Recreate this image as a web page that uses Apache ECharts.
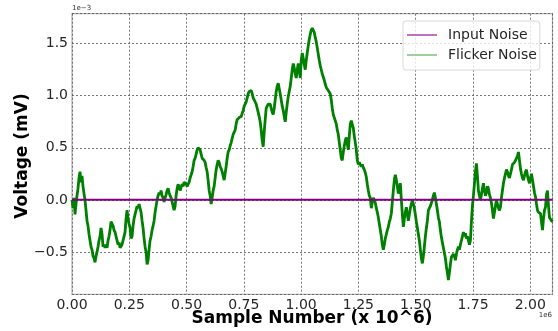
<!DOCTYPE html>
<html>
<head>
<meta charset="utf-8">
<script src="https://cdn.jsdelivr.net/npm/echarts@6/dist/echarts.min.js"></script>
<style>
  html, body { margin: 0; background: #fff; }
  #chart { width: 558px; height: 331px; }
</style>
</head>
<body>
<div id="chart"></div>
<script>
// x in units of 10^6 samples, y in units of 1e-3
const xTicks = [0, 0.25, 0.5, 0.75, 1.0, 1.25, 1.5, 1.75, 2.0];
const yTicks = [-0.5, 0.0, 0.5, 1.0, 1.5];
const xEnd = 2.097;
const yRange = [-0.907, 1.788];

const inputNoise = [[0, 0], [xEnd, 0]];

// flicker noise at evenly spaced sample positions
const flicker = [
  -0.00, -0.08, 0.02, -0.14, -0.04, 0.04, 0.11, 0.21, 0.27, 0.17, 0.23, 0.13, 0.06, 0.00, -0.10, -0.20,
  -0.25, -0.33, -0.39, -0.45, -0.48, -0.54, -0.56, -0.60, -0.54, -0.50, -0.45, -0.39, -0.35, -0.27, -0.33, -0.45,
  -0.43, -0.46, -0.43, -0.46, -0.39, -0.35, -0.29, -0.21, -0.20, -0.25, -0.29, -0.31, -0.35, -0.39, -0.43, -0.41,
  -0.46, -0.45, -0.43, -0.39, -0.35, -0.31, -0.18, -0.10, -0.18, -0.23, -0.27, -0.37, -0.35, -0.25, -0.18, -0.14,
  -0.10, -0.06, -0.08, -0.04, -0.04, -0.12, -0.20, -0.27, -0.37, -0.45, -0.50, -0.62, -0.58, -0.48, -0.39, -0.35,
  -0.29, -0.25, -0.20, -0.12, -0.06, 0.00, 0.04, 0.07, 0.05, 0.09, 0.04, 0.02, -0.02, 0.02, 0.05, 0.09,
  0.11, 0.07, 0.04, 0.02, -0.02, -0.06, -0.10, -0.06, 0.04, 0.11, 0.15, 0.13, 0.09, 0.12, 0.15, 0.13,
  0.17, 0.17, 0.15, 0.13, 0.14, 0.17, 0.21, 0.22, 0.27, 0.32, 0.38, 0.40, 0.44, 0.48, 0.50, 0.51,
  0.48, 0.44, 0.40, 0.41, 0.38, 0.36, 0.31, 0.27, 0.19, 0.09, 0.04, -0.04, 0.02, 0.09, 0.13, 0.21,
  0.29, 0.34, 0.38, 0.36, 0.32, 0.30, 0.27, 0.23, 0.19, 0.19, 0.32, 0.40, 0.46, 0.48, 0.52, 0.55,
  0.59, 0.63, 0.65, 0.67, 0.73, 0.77, 0.77, 0.79, 0.80, 0.80, 0.83, 0.86, 0.90, 0.92, 0.94, 0.98,
  1.02, 1.04, 1.05, 1.05, 1.02, 0.98, 0.96, 0.94, 0.92, 0.88, 0.84, 0.80, 0.75, 0.67, 0.57, 0.51,
  0.65, 0.77, 0.88, 0.90, 0.92, 0.93, 0.92, 0.88, 0.84, 0.82, 0.88, 0.96, 1.04, 1.09, 1.12, 1.07,
  1.02, 0.96, 0.90, 0.86, 0.80, 0.75, 0.84, 0.92, 0.99, 1.04, 1.09, 1.17, 1.25, 1.31, 1.27, 1.21,
  1.17, 1.25, 1.31, 1.25, 1.17, 1.34, 1.41, 1.36, 1.30, 1.25, 1.34, 1.41, 1.48, 1.54, 1.59, 1.63,
  1.65, 1.66, 1.61, 1.56, 1.52, 1.46, 1.40, 1.34, 1.29, 1.25, 1.21, 1.18, 1.15, 1.11, 1.08, 1.07,
  1.05, 1.04, 1.02, 0.96, 0.88, 0.82, 0.79, 0.76, 0.73, 0.67, 0.63, 0.55, 0.48, 0.40, 0.38, 0.46,
  0.52, 0.57, 0.60, 0.54, 0.48, 0.61, 0.73, 0.76, 0.77, 0.69, 0.61, 0.55, 0.48, 0.38, 0.34, 0.36,
  0.35, 0.32, 0.34, 0.31, 0.29, 0.26, 0.22, 0.15, 0.09, 0.04, 0.02, -0.08, -0.02, 0.02, 0.00, -0.03,
  -0.08, -0.12, -0.17, -0.23, -0.29, -0.35, -0.43, -0.48, -0.43, -0.37, -0.33, -0.29, -0.26, -0.21, -0.18, -0.13,
  -0.02, 0.09, 0.19, 0.24, 0.19, 0.13, 0.06, 0.11, 0.16, 0.00, -0.14, -0.26, -0.18, -0.12, -0.07, -0.14,
  -0.20, -0.14, -0.08, -0.04, 0.00, -0.04, -0.08, -0.14, -0.21, -0.27, -0.33, -0.39, -0.48, -0.56, -0.61, -0.54,
  -0.45, -0.35, -0.27, -0.20, -0.10, -0.08, -0.06, -0.03, 0.00, 0.04, 0.07, 0.02, -0.04, -0.10, -0.17, -0.21,
  -0.29, -0.36, -0.41, -0.46, -0.51, -0.56, -0.64, -0.70, -0.77, -0.70, -0.62, -0.55, -0.56, -0.52, -0.54, -0.58,
  -0.52, -0.48, -0.45, -0.48, -0.43, -0.39, -0.35, -0.31, -0.35, -0.32, -0.37, -0.35, -0.39, -0.43, -0.39, -0.21,
  -0.06, 0.04, 0.15, 0.27, 0.35, 0.23, 0.09, 0.04, 0.00, 0.05, 0.11, 0.16, 0.09, 0.04, 0.07, 0.13,
  0.11, 0.05, 0.02, -0.03, -0.10, -0.18, -0.12, -0.06, 0.00, -0.04, -0.08, -0.10, -0.07, 0.02, 0.09, 0.16,
  0.21, 0.25, 0.29, 0.27, 0.23, 0.21, 0.22, 0.29, 0.34, 0.35, 0.36, 0.38, 0.38, 0.42, 0.46, 0.38,
  0.30, 0.25, 0.21, 0.19, 0.23, 0.27, 0.29, 0.23, 0.19, 0.16, 0.21, 0.25, 0.19, 0.13, 0.07, 0.03,
  -0.04, -0.10, -0.12, -0.13, -0.13, -0.21, -0.29, -0.18, -0.10, -0.07, 0.05, 0.09, -0.06, -0.17, -0.18, -0.20,
  -0.21
];

const step = xEnd / (flicker.length - 1);
const flickerData = flicker.map((v, i) => [i * step, v]);

const font = "DejaVu Sans";
const titleStyle = { fontFamily: font, fontSize: 17, fontWeight: "bold", fill: "#000", align: "center", verticalAlign: "middle" };
const chart = echarts.init(document.getElementById("chart"));
chart.setOption({
  animation: false,
  grid: {
    left: 72, right: 5.5, top: 13.7, bottom: 36.7,
    show: true, borderColor: "#b0b0b0", borderWidth: 1.2, backgroundColor: "transparent"
  },
  legend: {
    orient: "vertical",
    left: 403, top: 21,
    padding: [6, 3, 7, 4],
    icon: "rect",
    itemWidth: 30, itemHeight: 1.6, itemGap: 4,
    backgroundColor: "rgba(255,255,255,0.8)",
    borderColor: "#d8d8d8", borderWidth: 1, borderRadius: 3,
    textStyle: { fontFamily: font, fontSize: 14, color: "#262626", padding: [0, 0, 0, 6], lineHeight: 16 },
    data: [
      { name: "Input Noise", itemStyle: { color: "#b34db3" } },
      { name: "Flicker Noise", itemStyle: { color: "#86c486" } }
    ]
  },
  xAxis: {
    type: "value", min: 0, max: xEnd, interval: 0.25,
    axisLine: { show: false }, axisTick: { show: false },
    axisLabel: {
      fontFamily: font, fontSize: 14, color: "#262626", margin: 4,
      showMaxLabel: false,
      formatter: (v) => xTicks.some((t) => Math.abs(t - v) < 1e-9) ? v.toFixed(2) : ""
    },
    splitLine: { show: true, lineStyle: { color: "#555", width: 0.8, type: [2, 2] } }
  },
  yAxis: {
    type: "value", min: yRange[0], max: yRange[1], splitNumber: 5,
    axisLine: { show: false }, axisTick: { show: false },
    axisLabel: {
      fontFamily: font, fontSize: 14, color: "#262626", margin: 4,
      showMinLabel: false, showMaxLabel: false,
      formatter: (v) => yTicks.some((t) => Math.abs(t - v) < 1e-9) ? v.toFixed(1).replace("-", "\u2212") : ""
    },
    splitLine: { show: true, lineStyle: { color: "#555", width: 0.8, type: [2, 2] } }
  },
  graphic: [
    { type: "text", x: 312, y: 319, style: Object.assign({ text: "Sample Number (x 10^6)" }, titleStyle) },
    { type: "text", x: 23, y: 156, rotation: Math.PI / 2, style: Object.assign({ text: "Voltage (mV)" }, titleStyle) },
    { type: "text", left: 72, top: 5, style: { text: "1e\u22123", fontFamily: font, fontSize: 7, fill: "#333" } },
    { type: "text", right: 6, top: 312, style: { text: "1e6", fontFamily: font, fontSize: 7, fill: "#333" } }
  ],
  series: [
    {
      name: "Input Noise", type: "line", data: inputNoise,
      symbol: "none", lineStyle: { color: "#800080", width: 2 }, itemStyle: { color: "#800080" }, z: 3
    },
    {
      name: "Flicker Noise", type: "line", data: flickerData,
      symbol: "none", lineStyle: { color: "#008000", width: 2.8 }, itemStyle: { color: "#008000" }, z: 2
    }
  ]
});
</script>
</body>
</html>
